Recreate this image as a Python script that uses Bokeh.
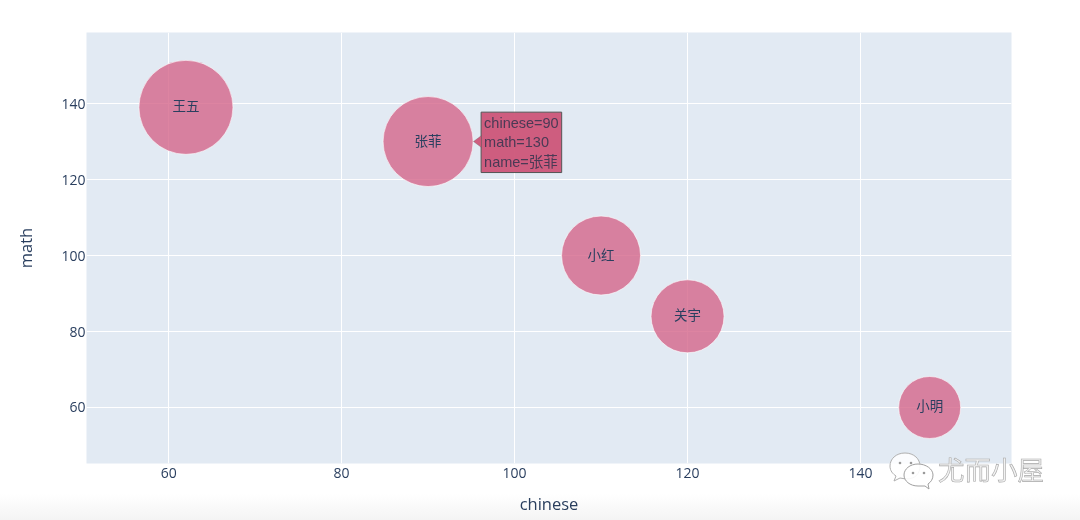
import numpy as np
from bokeh.plotting import figure
from bokeh.models import ColumnDataSource, Label, PolyAnnotation, Range1d, FixedTicker, Div
from bokeh.core.properties import value
from bokeh.embed import file_html
from bokeh.resources import INLINE

names = ["王五", "张菲", "小红", "关宇", "小明"]
chinese = [62, 90, 110, 120, 148]
math = [139, 130, 100, 84, 60]
bubble_value = [100, 91.7, 70.6, 60.3, 43.5]
x_ticks = [60, 80, 100, 120, 140]
y_ticks = [60, 80, 100, 120, 140]

INK = "#2a3f5f"
PINK = "#D36286"
TIP = "#CC5578"
LATIN = "Open Sans"
ARIAL = "Liberation Sans"
CJK = "Noto Sans CJK SC"
MAX_D = 94
FRAME_L, FRAME_B = 86, 463

def sx(px):
    return [v - FRAME_L for v in px]

def sy(px):
    return [FRAME_B - v for v in px]

p = figure(width=1080, height=520, frame_width=925, frame_height=431,
           x_range=Range1d(50.5, 157.46), y_range=Range1d(45.26, 158.7),
           output_backend="svg", toolbar_location=None,
           background_fill_color="#E2EAF3", border_fill_color="#ffffff",
           min_border_left=86, min_border_right=69, min_border_top=32, min_border_bottom=57)
p.outline_line_color = None

for ax, title, ticks in ((p.xaxis[0], "chinese", x_ticks), (p.yaxis[0], "math", y_ticks)):
    ax.ticker = FixedTicker(ticks=ticks)
    ax.axis_label = title
    ax.axis_line_color = None
    ax.major_tick_line_color = None
    ax.minor_tick_line_color = None
    ax.major_tick_out = 0
    ax.major_tick_in = 0
    ax.minor_tick_out = 0
    ax.minor_tick_in = 0
    ax.major_label_text_color = INK
    ax.major_label_text_font = LATIN
    ax.major_label_text_font_size = "14px"
    ax.axis_label_text_color = INK
    ax.axis_label_text_font = LATIN
    ax.axis_label_text_font_size = "16.5px"
    ax.axis_label_text_font_style = "normal"
p.xaxis[0].major_label_standoff = 4
p.xaxis[0].axis_label_standoff = 11
p.yaxis[0].major_label_standoff = 1
p.yaxis[0].major_label_orientation = "horizontal"
p.yaxis[0].axis_label_standoff = 21

p.grid.grid_line_color = "#ffffff"
p.grid.grid_line_width = 1

sizes = [MAX_D * np.sqrt(v / max(bubble_value)) for v in bubble_value]
src = ColumnDataSource(dict(x=chinese, y=math, name=names, s=sizes))
p.scatter("x", "y", size="s", source=src, fill_color=PINK, fill_alpha=0.78,
          line_color="#ffffff", line_alpha=0.6, line_width=1)
p.text("x", "y", text="name", source=src, text_align="center", text_baseline="middle",
       y_offset=-2, text_color=INK, text_font=value(CJK), text_font_size="13.5px")

# hover label on 张菲
i = names.index("张菲")
tip = Label(x=chinese[i], y=math[i], x_units="data", y_units="data", x_offset=53, y_offset=-31,
            text=f"chinese={chinese[i]}\nmath={math[i]}\nname={names[i]}",
            text_font=f"{ARIAL}, {CJK}", text_font_size="14.5px", text_color="#4a3a55",
            text_line_height=1.2,
            background_fill_color=TIP, background_fill_alpha=0.95,
            border_line_color="#555555", border_line_width=1, padding=3)
p.add_layout(tip)
p.add_layout(PolyAnnotation(xs=sx([473, 481, 481]), ys=sy([141, 135, 147]),
                            xs_units="screen", ys_units="screen",
                            fill_color=TIP, fill_alpha=0.95,
                            line_color="#555555", line_width=1))

# bottom fade of the picture, and the watermark over the frame edge
fade = Div(text='<div style="width:1080px;height:26px;'
                'background:linear-gradient(to bottom,#ffffff,#f4f4f4)"></div>',
           styles={"position": "absolute", "left": "0px", "top": "494px",
                   "pointer-events": "none", "mix-blend-mode": "multiply"})
p.elements.append(fade)

eyes = "".join(f'<circle cx="{cx}" cy="{cy}" r="1.3" fill="#9a9a9a"/>'
               for cx, cy in ((11, 13), (22, 13), (24, 23), (35, 23)))
mark = Div(text=(
    '<div style="position:relative;width:170px;height:45px">'
    '<svg width="50" height="45" style="position:absolute;left:0;top:0">'
    '<path d="M16 3 C7 3 1 9 1 16 C1 21 4 24 7 26 L5 31 L11 28 L17 29 C27 29 31 23 31 16 C31 9 25 3 16 3 Z" '
    'fill="#ffffff" fill-opacity="0.85" stroke="#b0b0b0"/>'
    '<path d="M29 14 C21 14 15 19 15 25 C15 31 21 36 29 36 L36 36 L40 39 L39 34 C42 32 44 29 44 25 C44 19 37 14 29 14 Z" '
    f'fill="#ffffff" fill-opacity="0.9" stroke="#a0a0a0"/>{eyes}</svg>'
    f'<span style="position:absolute;left:49px;top:-1px;font:26.5px \'{CJK}\';color:#f2f2f2;'
    '-webkit-text-stroke:0.6px #a8a8a8;white-space:nowrap">尤而小屋</span>'
    '</div>'),
    styles={"position": "absolute", "left": "889px", "top": "450px"})
p.elements.append(mark)

open("out.html", "w").write(file_html(p, INLINE))
